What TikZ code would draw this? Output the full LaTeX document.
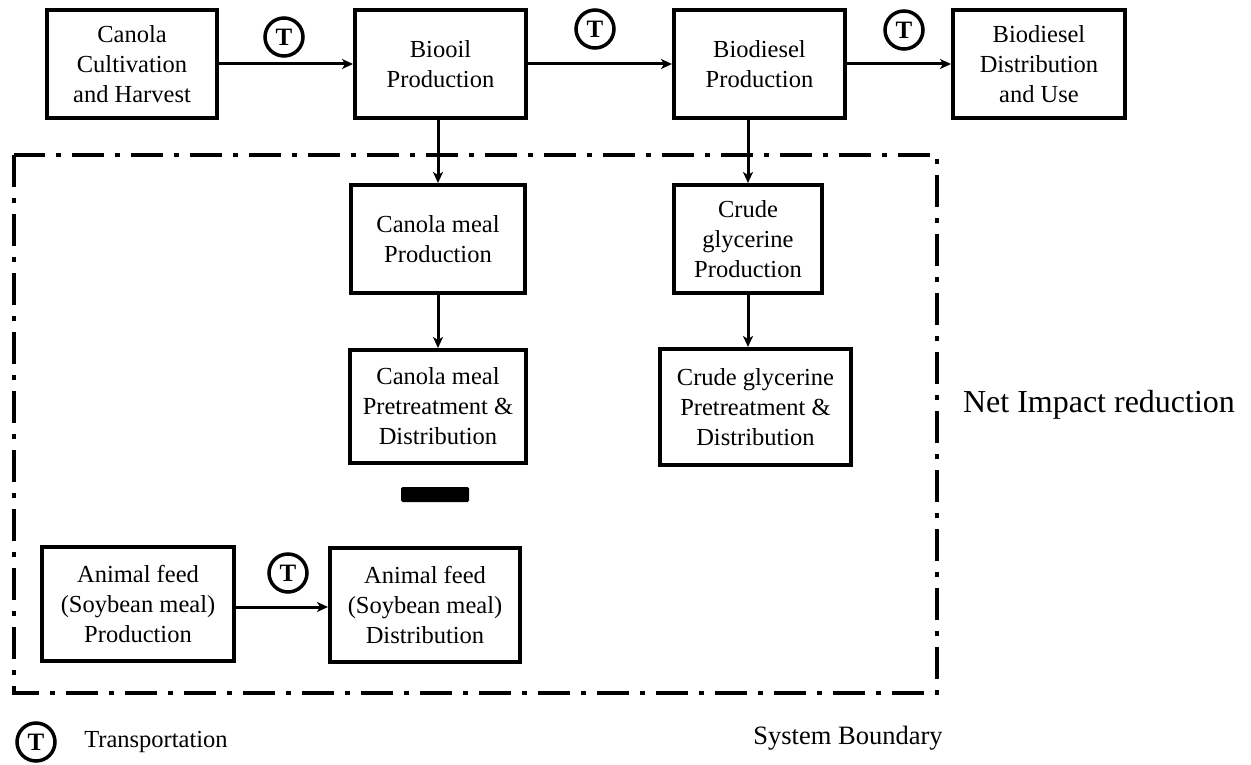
\documentclass[tikz,border=0pt]{standalone}
\usepackage{fontspec}
\setmainfont{Liberation Serif}
\usetikzlibrary{arrows.meta}
\begin{document}
\begin{tikzpicture}[x=1pt,y=-1pt,
  proc/.style={draw, line width=4pt, align=center, inner sep=0pt,
    font=\fontsize{24.5}{30}\selectfont},
  flow/.style={line width=3pt, -{Stealth[length=11pt,width=10pt,inset=3pt]}},
  tmark/.style={circle, draw, line width=3.5pt, minimum size=38pt, inner sep=0pt,
    font=\fontsize{25}{25}\selectfont\bfseries},
  boundary/.style={line width=4.5pt, dash pattern=on 32pt off 11pt on 5pt off 11pt}]
\useasboundingbox (0,0) rectangle (1251,765);

% system boundary
\draw[boundary] (14,155) rectangle (937,693);

% main chain
\node[proc, minimum width=170pt, minimum height=108pt] (cult) at (132,64) {Canola\\Cultivation\\and Harvest};
\node[proc, minimum width=171pt, minimum height=108pt] (oil) at (440.5,64) {Biooil\\Production};
\node[proc, minimum width=171pt, minimum height=108pt] (bdp) at (759.5,64) {Biodiesel\\Production};
\node[proc, minimum width=172pt, minimum height=108pt] (bdd) at (1039,64) {Biodiesel\\Distribution\\and Use};

% co-products
\node[proc, minimum width=174pt, minimum height=108pt] (meal) at (438,239) {Canola meal\\Production};
\node[proc, minimum width=148pt, minimum height=108pt] (gly) at (748,239) {Crude\\glycerine\\Production};
\node[proc, minimum width=176pt, minimum height=113pt] (mealpt) at (438,406.5) {Canola meal\\Pretreatment \&\\Distribution};
\node[proc, minimum width=191pt, minimum height=116pt] (glypt) at (755.5,407) {Crude glycerine\\Pretreatment \&\\Distribution};

% credit bar
\node[fill=black, rounded corners=1.5pt, minimum width=68pt, minimum height=15pt, inner sep=0pt] (minus) at (435,494.5) {};

% displaced product
\node[proc, minimum width=192pt, minimum height=114pt] (feedp) at (138,604) {Animal feed\\(Soybean meal)\\Production};
\node[proc, minimum width=190pt, minimum height=114pt] (feedd) at (425,605) {Animal feed\\(Soybean meal)\\Distribution};

% transport marks
\node[tmark] (t1) at (284,37) {T};
\node[tmark] (t2) at (595,29) {T};
\node[tmark] (t3) at (904,30) {T};
\node[tmark] (t4) at (288,573) {T};
\node[tmark] (t5) at (36,742) {T};

% connectors
\draw[flow] (cult.east) -- (oil.west);
\draw[flow] (oil.east) -- (bdp.west);
\draw[flow] (bdp.east) -- (bdd.west);
\draw[flow] (meal.north |- oil.south) -- (meal.north);
\draw[flow] (gly.north |- bdp.south) -- (gly.north);
\draw[flow] (meal.south) -- (mealpt.north);
\draw[flow] (gly.south) -- (gly.south |- glypt.north);
\draw[flow] (feedp.east |- 0,607) -- (feedd.west |- 0,607);

% labels
\node[anchor=west, font=\fontsize{24.5}{30}\selectfont] (leg) at (t5.east) [xshift=24pt] {Transportation};
\node[font=\fontsize{32}{36}\selectfont] (nir) at (1099,405) {Net Impact reduction};
\node[font=\fontsize{26.5}{32}\selectfont] (sb) at (848,738) {System Boundary};
\end{tikzpicture}
\end{document}
